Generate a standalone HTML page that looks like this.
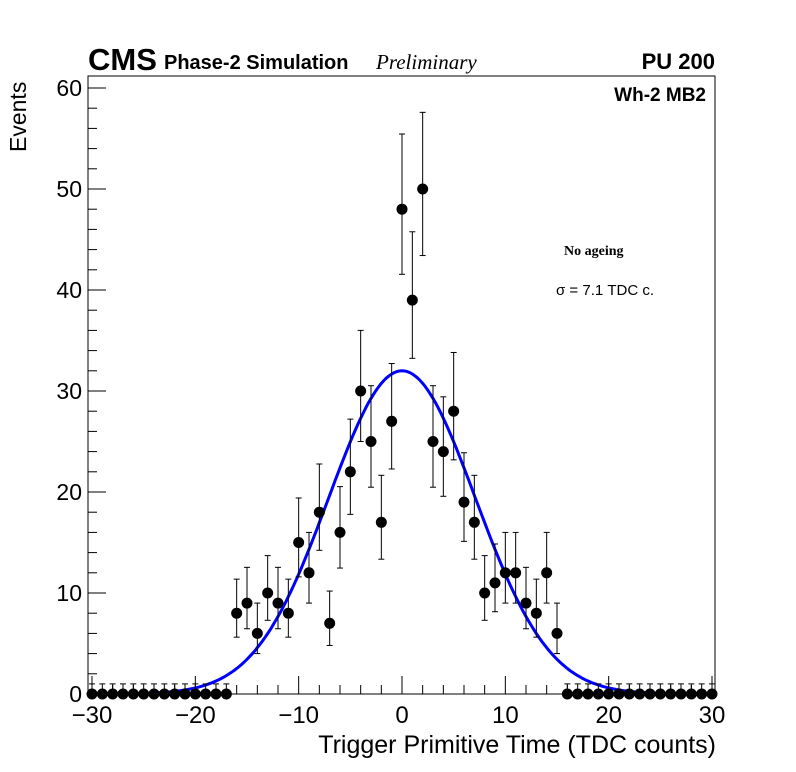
<!DOCTYPE html>
<html><head><meta charset="utf-8"><style>
body{margin:0;background:#fff;}
svg{display:block;font-family:"Liberation Sans",sans-serif;}
</style></head><body>
<svg id="chart" width="796" height="772">
<rect x="0" y="0" width="796" height="772" fill="#fff"/>
<g id="axes"></g>
<g id="fit"></g>
<g id="points"></g>
<rect x="88" y="76" width="627" height="618" fill="none" stroke="#000" stroke-width="1"/>
<text x="88" y="70" font-size="31" font-weight="bold">CMS</text>
<text x="164" y="69" font-size="20" font-weight="bold">Phase-2 Simulation</text>
<text x="376" y="69" font-size="21" font-style="italic" font-family="Liberation Serif, serif">Preliminary</text>
<text x="715" y="69" font-size="22" font-weight="bold" text-anchor="end">PU 200</text>
<text x="706" y="101" font-size="19" font-weight="bold" text-anchor="end">Wh-2 MB2</text>
<text x="564" y="255" font-size="14" font-weight="bold" font-family="Liberation Serif, serif">No ageing</text>
<text x="556" y="295" font-size="15">σ = 7.1 TDC c.</text>
<text x="716" y="753" font-size="25" text-anchor="end">Trigger Primitive Time (TDC counts)</text>
<text transform="translate(26,152) rotate(-90)" font-size="23">Events</text>
</svg>
<script>
const xCenters=[-30,-29,-28,-27,-26,-25,-24,-23,-22,-21,-20,-19,-18,-17,-16,-15,-14,-13,-12,-11,-10,-9,-8,-7,-6,-5,-4,-3,-2,-1,0,1,2,3,4,5,6,7,8,9,10,11,12,13,14,15,16,17,18,19,20,21,22,23,24,25,26,27,28,29,30];
const counts=[0,0,0,0,0,0,0,0,0,0,0,0,0,0,8,9,6,10,9,8,15,12,18,7,16,22,30,25,17,27,48,39,50,25,24,28,19,17,10,11,12,12,9,8,12,6,0,0,0,0,0,0,0,0,0,0,0,0,0,0,0];
const xTicks=[-30,-20,-10,0,10,20,30];
const yTicks=[0,10,20,30,40,50,60];
const fitAmp=32, fitMean=0, fitSigma=7.1;
const NS="http://www.w3.org/2000/svg";
const X=v=>92+(v+30)*310/30;
const Y=v=>694-v*606/60;
function mk(tag,attrs,parent){const e=document.createElementNS(NS,tag);for(const k in attrs)e.setAttribute(k,attrs[k]);parent.appendChild(e);return e;}
const axes=document.getElementById('axes');
for(let v=-30;v<=30;v+=2){const major=v%10===0;
 const t=mk('line',{x1:X(v),x2:X(v),y1:694,y2:694-(major?18:9),stroke:'#000'},axes);
 
 }
for(let v=0;v<=60;v+=2){const major=v%10===0;
 const t=mk('line',{x1:88,x2:88+(major?18:9),y1:Y(v),y2:Y(v),stroke:'#000'},axes);
 
 }
xTicks.forEach(v=>{const t=mk('text',{x:X(v),y:723,'font-size':24,'text-anchor':'middle'},axes);t.textContent=(v<0?'\u2212':'')+Math.abs(v);
 
 });
yTicks.forEach(v=>{const t=mk('text',{x:82,y:Y(v)+8,'font-size':23,'text-anchor':'end'},axes);t.textContent=v;
 
 });
let d='';for(let v=-30;v<=30;v+=0.25){const f=fitAmp*Math.exp(-0.5*((v-fitMean)/fitSigma)**2);d+=(d?'L':'M')+X(v).toFixed(1)+','+Y(f).toFixed(1);}
const fp=mk('path',{d:d,fill:'none',stroke:'#0000ff','stroke-width':3},document.getElementById('fit'));


const pts=document.getElementById('points');
xCenters.forEach((x,i)=>{const n=counts[i];
 const s=Math.sqrt(n+0.25);const up=n+0.5+s;const lo=Math.max(0,n+0.5-s);
 const g=mk('g',{},pts);
 
 
 mk('line',{x1:X(x),x2:X(x),y1:Y(up),y2:Y(lo),stroke:'#000'},g);
 mk('line',{x1:X(x-0.5),x2:X(x+0.5),y1:Y(n),y2:Y(n),stroke:'#000'},g);
 mk('line',{x1:X(x)-3,x2:X(x)+3,y1:Y(up),y2:Y(up),stroke:'#000'},g);
 if(n>0)mk('line',{x1:X(x)-3,x2:X(x)+3,y1:Y(lo),y2:Y(lo),stroke:'#000'},g);
 mk('circle',{cx:X(x),cy:Y(n),r:5.5,fill:'#000'},g);});
</script>
</body></html>
